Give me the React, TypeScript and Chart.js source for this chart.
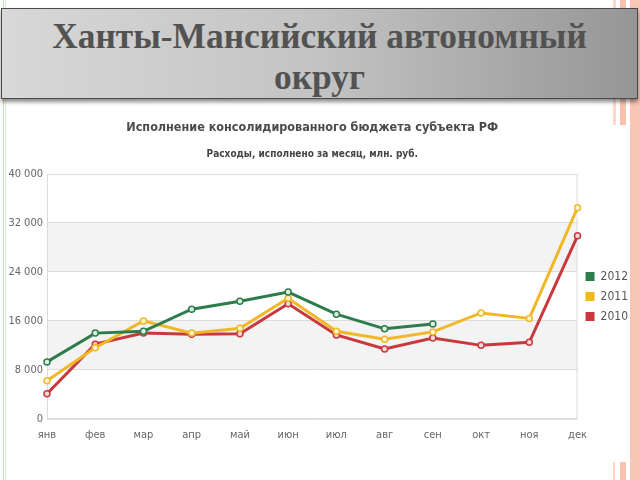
import { useEffect, useRef } from 'react';
import { Chart, registerables } from 'chart.js';

Chart.register(...registerables);

const slideTitle = 'Ханты-Мансийский автономный округ';
const chartTitle = 'Исполнение консолидированного бюджета субъекта РФ';
const chartSubtitle = 'Расходы, исполнено за месяц, млн. руб.';

const months = ['янв', 'фев', 'мар', 'апр', 'май', 'июн', 'июл', 'авг', 'сен', 'окт', 'ноя', 'дек'];
const seriesNames = ['2012', '2011', '2010'];
const values2012 = [9300, 14000, 14300, 17900, 19200, 20700, 17100, 14700, 15500, null, null, null];
const values2011 = [6200, 11600, 16000, 14000, 14800, 19700, 14300, 13000, 14200, 17300, 16400, 34500];
const values2010 = [4100, 12200, 14000, 13800, 13900, 18800, 13700, 11400, 13200, 12000, 12500, 29900];
const yMin = 0;
const yMax = 40000;
const yStep = 8000;

const lineColors = ['#2d7d4c', '#f0b826', '#c9383d'];
const pointFills = ['#d9efe0', '#fff4cf', '#f8d6d6'];

const FONT = '"Liberation Sans Narrow", "DejaVu Sans Condensed", "Liberation Sans", sans-serif';

const bandsPlugin = {
  id: 'bands',
  beforeDraw(chart: any) {
    const { ctx, chartArea, scales } = chart;
    const y = scales.y;
    const ticks = y.ticks.map((t: any) => t.value);
    ctx.save();
    ctx.fillStyle = '#f3f3f3';
    for (let i = 1; i < ticks.length - 1; i += 2) {
      const a = y.getPixelForValue(ticks[i]);
      const b = y.getPixelForValue(ticks[i + 1]);
      ctx.fillRect(chartArea.left, Math.min(a, b), chartArea.right - chartArea.left, Math.abs(a - b));
    }
    ctx.restore();
  },
  beforeDatasetsDraw(chart: any) {
    const { ctx, chartArea } = chart;
    ctx.save();
    ctx.strokeStyle = '#dcdcdc';
    ctx.lineWidth = 1;
    ctx.strokeRect(chartArea.left + 0.5, chartArea.top + 0.5, chartArea.right - chartArea.left - 1, chartArea.bottom - chartArea.top);
    ctx.restore();
  },
};

function fmt(v: number) {
  return String(v).replace(/\B(?=(\d{3})+(?!\d))/g, ' ');
}

function LineChart() {
  const ref = useRef<HTMLCanvasElement | null>(null);
  useEffect(() => {
    if (!ref.current) return;
    const data = [values2012, values2011, values2010];
    const chart = new Chart(ref.current, {
      type: 'line',
      data: {
        labels: months,
        datasets: data.map((vals, i) => ({
          label: seriesNames[i],
          data: vals,
          borderColor: lineColors[i],
          backgroundColor: lineColors[i],
          borderWidth: 3,
          tension: 0,
          fill: false,
          pointRadius: 3,
          pointBorderWidth: 1.5,
          pointBorderColor: lineColors[i],
          pointBackgroundColor: pointFills[i],
          spanGaps: false,
        })),
      },
      options: {
        animation: false,
        responsive: false,
        layout: { padding: { left: 0, right: 2, top: 0, bottom: 28 } },
        plugins: {
          title: {
            display: true,
            text: chartTitle,
            fullSize: false,
            color: '#4a4a4a',
            font: { family: FONT, size: 12.5, weight: 'bold' },
            padding: { top: 12, bottom: 0 },
          },
          subtitle: {
            display: true,
            text: chartSubtitle,
            fullSize: false,
            color: '#444',
            font: { family: FONT, size: 10, weight: 'bold' },
            padding: { top: 13, bottom: 14 },
          },
          legend: {
            display: true,
            position: 'right',
            align: 'center',
            fullSize: false,
            labels: {
              boxWidth: 9,
              boxHeight: 9,
              padding: 8,
              color: '#555',
              font: { family: FONT, size: 12 },
              generateLabels: (ch: any) =>
                ch.data.datasets.map((ds: any, i: number) => ({
                  text: ds.label,
                  fillStyle: lineColors[i],
                  strokeStyle: lineColors[i],
                  fontColor: '#555',
                  lineWidth: 0,
                  hidden: false,
                  datasetIndex: i,
                })),
            },
          },
          tooltip: { enabled: false },
        },
        scales: {
          x: {
            offset: false,
            grid: { display: false, drawTicks: false },
            border: { display: false },
            ticks: { color: '#666', font: { family: FONT, size: 11 }, padding: 10, maxRotation: 0 },
          },
          y: {
            min: yMin,
            max: yMax,
            afterFit: (s: any) => { s.width = 47; },
            grid: { color: '#dcdcdc', drawTicks: false },
            border: { display: false },
            ticks: {
              stepSize: yStep,
              color: '#666',
              font: { family: FONT, size: 11 },
              padding: 4,
              callback: (v: any) => fmt(Number(v)),
            },
          },
        },
      },
      plugins: [bandsPlugin],
    } as any);
    return () => chart.destroy();
  }, []);
  return <canvas ref={ref} width={640} height={372} style={{ display: 'block' }} />;
}

export default function App() {
  return (
    <div style={{ position: 'fixed', left: 0, top: 0, width: 640, height: 480, background: '#fff', overflow: 'hidden' }}>
      <div style={{ position: 'absolute', left: 3, top: 0, width: 1, height: 480, background: '#f7c8bc' }} />
      <div style={{ position: 'absolute', left: 5, top: 0, width: 1, height: 480, background: '#fbe0d8' }} />
      <div style={{ position: 'absolute', left: 630, top: 0, width: 10, height: 480, background: '#f9c5b4' }} />
      <div style={{ position: 'absolute', left: 613, top: 0, width: 3, height: 125, background: '#fbd8cc' }} />
      <div style={{ position: 'absolute', left: 620, top: 0, width: 6, height: 125, background: '#f8c0ad' }} />
      <div style={{ position: 'absolute', left: 613, top: 462, width: 2, height: 18, background: '#fbd4c6' }} />
      <div style={{ position: 'absolute', left: 620, top: 462, width: 6, height: 18, background: '#f8c4b2' }} />
      <div
        style={{
          position: 'absolute', left: 1, top: 8, width: 635, height: 82,
          border: '1px solid #4a4a4a',
          background: 'linear-gradient(to right, #d8d8d8 0%, #c3c3c3 50%, #969696 100%)',
          boxShadow: '0 3px 4px rgba(0,0,0,0.45)',
          color: '#525252',
          fontFamily: '"Liberation Serif", "DejaVu Serif", serif',
          fontWeight: 'bold',
          fontSize: 35.4,
          lineHeight: '41px',
          textAlign: 'center',
          paddingTop: 7,
          boxSizing: 'content-box',
          whiteSpace: 'nowrap',
        }}
      >
        {slideTitle.split(' ').slice(0, 2).join(' ')}
        <br />
        {slideTitle.split(' ').slice(2).join(' ')}
      </div>
      <div style={{ position: 'absolute', left: 0, top: 108, width: 640, height: 372 }}>
        <LineChart />
      </div>
    </div>
  );
}
